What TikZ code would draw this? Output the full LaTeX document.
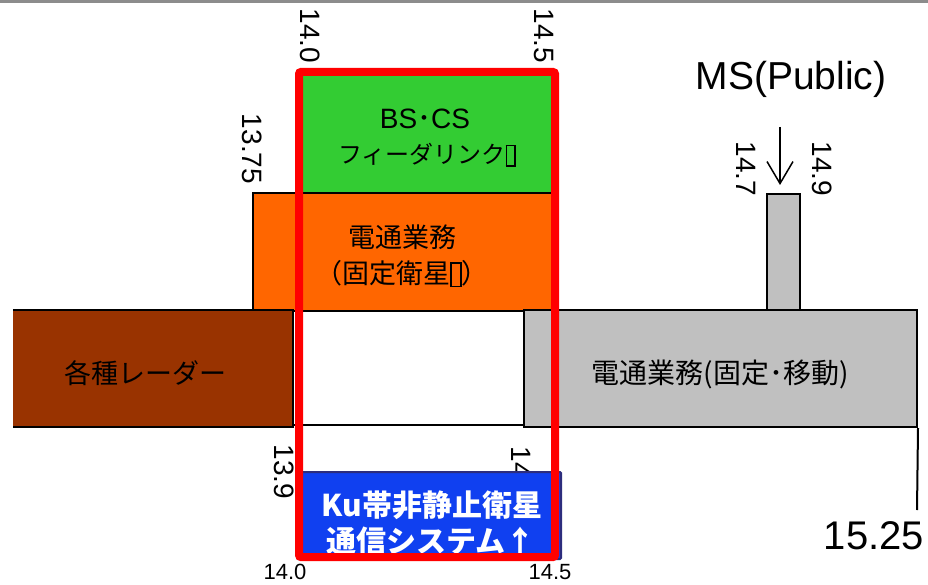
\documentclass[tikz,border=0pt]{standalone}
\usepackage{fontspec}
\setmainfont{Liberation Sans}
\newfontfamily\jp{Noto Sans CJK JP}
\usetikzlibrary{fit,arrows.meta}
\definecolor{bsgreen}{RGB}{51,204,51}
\definecolor{fsorange}{RGB}{255,102,0}
\definecolor{radarbrown}{RGB}{153,51,0}
\definecolor{mobgray}{RGB}{192,192,192}
\definecolor{topgray}{RGB}{140,140,140}
\definecolor{kublue}{RGB}{16,64,240}
\definecolor{kuedge}{RGB}{45,45,125}
\newcommand{\tofubox}{\raisebox{-0.06em}{\setlength{\fboxsep}{0pt}\setlength{\fboxrule}{0.06em}\fbox{\rule{0pt}{0.8em}\hspace{0.3em}}}}
\tikzset{
  band/.style={inner sep=0pt, draw=black, line width=2pt},
  jptext/.style={font=\jp\fontsize{27}{33}\selectfont, inner sep=0pt},
  kutext/.style={font=\jp\bfseries\fontsize{30}{36}\selectfont, text=white, inner sep=0pt},
  vnum/.style={font=\fontsize{28}{28}\selectfont, rotate=-90, inner sep=0pt},
  hnum/.style={font=\fontsize{22}{22}\selectfont, inner sep=0pt}
}
\begin{document}
\begin{tikzpicture}[x=1pt,y=-1pt]
\useasboundingbox (0,0) rectangle (928,585);
\fill[topgray] (0,0) rectangle (928,3);

% bands
\node[band, fill=bsgreen, fit={(300,74) (552,193)}] (feeder) {};
\node[band, fill=fsorange, fit={(253,193) (552,311)}] (fss) {};
\node[band, fill=mobgray, fit={(767,194) (800,311)}] (ms) {};
\node[inner sep=0pt, fill=radarbrown, fit={(13,310) (293,427)}] (radar) {};
\draw[line width=2pt] (radar.north west) -- (radar.north east) -- (radar.south east) -- (radar.south west);
\node[band, fill=white, fit={(293,311) (524,425)}] (gap) {};
\node[band, fill=mobgray, fit={(524,310) (917,427)}] (fixmob) {};
\coordinate (endtop) at (fixmob.south east);
\coordinate (endbot) at (917,510);
\draw[line width=2pt] (endtop) -- (endbot);

% band texts
\node[font=\fontsize{28}{28}\selectfont, inner sep=0pt, anchor=base] (feedt1) at (425,129) {BS{\jp ･}CS};
\node[jptext, font=\jp\fontsize{24}{30}\selectfont] (feedt2) at (427,155) {フィーダリンク\tofubox};
\node[jptext] (fsst1) at (402,237) {電通業務};
\node[jptext] (fsst2) at (402,274) {（固定衛星\tofubox）};
\node[jptext] (radart) at (145,373) {各種レーダー};
\node[jptext, font=\jp\fontsize{28}{33}\selectfont] (fixmobt) at (720,374) {電通業務(固定･移動)};

% frequency labels
\node[vnum] (f140) at (310,36) {14.0};
\node[vnum] (f145) at (544,36) {14.5};
\node[vnum] (f1375) at (252,149) {13.75};
\node[vnum] (f147) at (746,169) {14.7};
\node[vnum] (f149) at (822,169) {14.9};
\node[vnum] (f139) at (284,472) {13.9};
\node[vnum] (f145b) at (521,474) {14.5};
\node[font=\fontsize{40}{40}\selectfont, inner sep=0pt] (f1525) at (874,536) {15.25};

% MS(Public)
\node[font=\fontsize{39}{39}\selectfont, inner sep=0pt] (mspub) at (791,79) {MS(Public)};
\coordinate (arrs) at (780,127);
\coordinate (arre) at (780,185);
\draw[line width=1.5pt, -{Straight Barb[length=22pt,width=26pt]}] (arrs) -- (arre);

% Ku band box
\node[fit={(297,472) (561,559)}, inner sep=0pt, fill=kublue, draw=kuedge, line width=2pt, rounded corners=1pt] (ku) {};
\node[kutext] (kut1) at (432,505) {Ku帯非静止衛星};
\node[kutext] (kut2) at (431,541) {通信システム↑};

% red frame
\node[fit={(299,72) (555,557)}, inner sep=0pt, draw=red, line width=8pt, rounded corners=2pt] (frame) {};

% bottom labels
\node[hnum] (b140) at (285,572) {14.0};
\node[hnum] (b145) at (550,572) {14.5};
\end{tikzpicture}
\end{document}
